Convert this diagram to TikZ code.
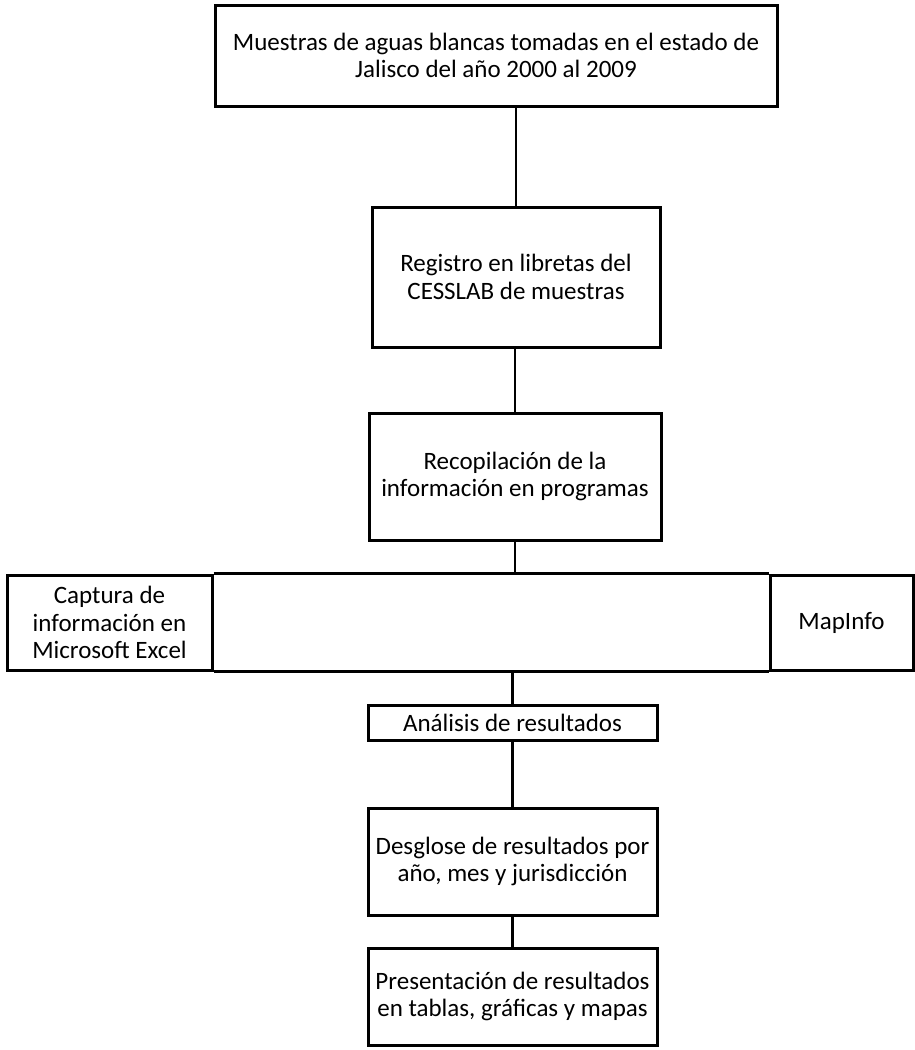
\documentclass[tikz,border=0pt]{standalone}
\usepackage{fontspec}
\setmainfont{Carlito}
\begin{document}
\begin{tikzpicture}[x=1pt,y=-1pt,
  box/.style={draw=black, line width=3pt, rectangle, align=center, inner sep=0pt,
    font=\fontsize{25}{27.5}\selectfont},
  edge/.style={draw=black, line width=3pt},
  conn/.style={draw=black, line width=2.4pt}]
\useasboundingbox (0,0) rectangle (915,1050);
\node[box, minimum width=562pt, minimum height=101pt] (top) at (496,55.5)
  {Muestras de aguas blancas tomadas en el estado de\\Jalisco del año 2000 al 2009};
\node[box, minimum width=288pt, minimum height=140pt] (reg) at (516,277)
  {Registro en libretas del\\CESSLAB de muestras};
\node[box, minimum width=292pt, minimum height=127pt] (rec) at (515,476.5)
  {Recopilación de la\\información en programas};
\node[box, minimum width=205pt, minimum height=95pt] (excel) at (109.5,622.5)
  {Captura de\\información en\\Microsoft Excel};
\node[box, minimum width=143pt, minimum height=95pt] (map) at (841.5,622.5)
  {MapInfo};
\node[box, minimum width=289pt, minimum height=35pt] (ana) at (512.5,722.5)
  {Análisis de resultados};
\node[box, minimum width=289pt, minimum height=107pt] (des) at (512.5,861.5)
  {Desglose de resultados por\\año, mes y jurisdicción};
\node[box, minimum width=289pt, minimum height=97pt] (pre) at (512.5,996.5)
  {Presentación de resultados\\en tablas, gráficas y mapas};
\draw[edge] (excel.north east) -- (map.north west);
\draw[edge] (excel.south east) -- (map.south west);
\draw[conn] (top.south -| reg.north) -- (reg.north);
\draw[conn] (reg.south -| rec.north) -- (rec.north);
\draw[conn] (rec.south) -- (rec.south |- excel.north);
\draw[conn] (ana.north |- excel.south) -- (ana.north);
\draw[conn] (ana.south) -- (des.north);
\draw[conn] (des.south) -- (pre.north);
\end{tikzpicture}
\end{document}
